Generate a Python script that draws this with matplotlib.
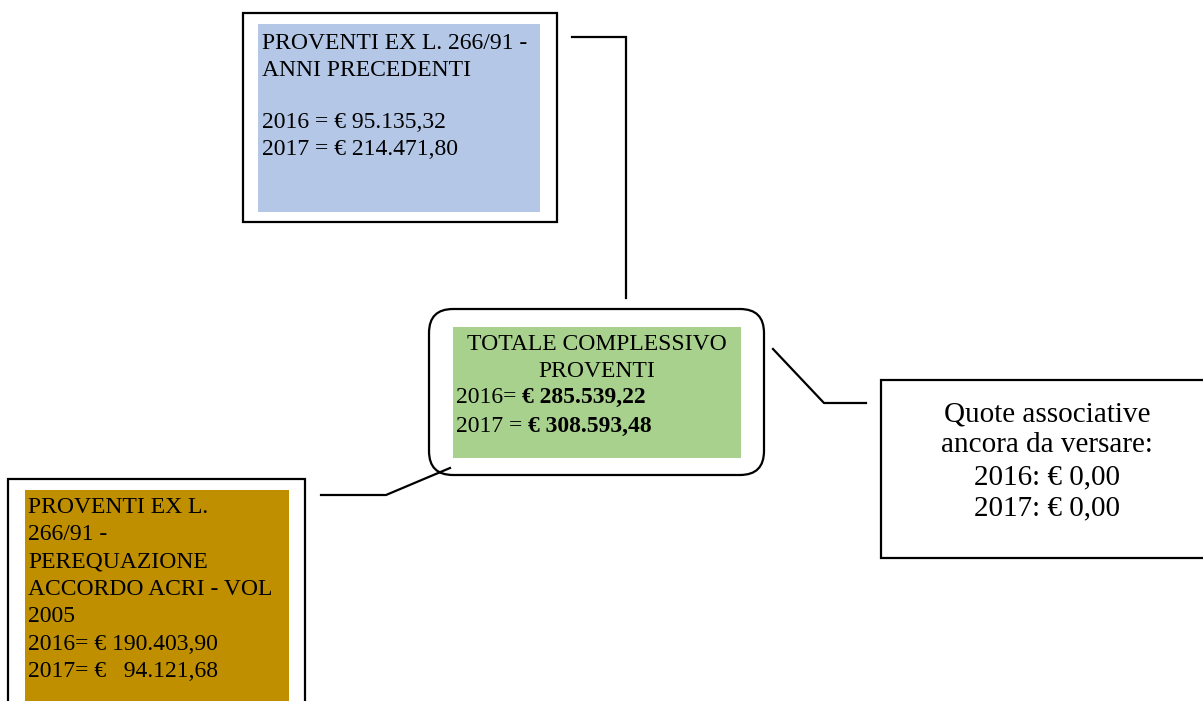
import matplotlib
matplotlib.use('Agg')
import matplotlib.pyplot as plt
from matplotlib.patches import Rectangle, FancyBboxPatch

# text content of the four boxes
top_lines = ["PROVENTI EX L. 266/91 -", "ANNI PRECEDENTI", "", "2016 = \u20ac 95.135,32", "2017 = \u20ac 214.471,80"]
center_title = ["TOTALE COMPLESSIVO", "PROVENTI"]
center_years = ["2016= ", "2017 = "]
center_values = ["\u20ac 285.539,22", "\u20ac 308.593,48"]
left_lines = ["PROVENTI EX L.", "266/91 -", "PEREQUAZIONE", "ACCORDO ACRI - VOL", "2005",
              "2016= \u20ac 190.403,90", "2017= \u20ac   94.121,68"]
right_lines = ["Quote associative", "ancora da versare:", "2016: \u20ac 0,00", "2017: \u20ac 0,00"]

FONT = 'Liberation Serif'
FS = 17
LW = 1.6

fig = plt.figure(figsize=(12.03, 7.01), dpi=100)
fig.patch.set_facecolor('white')
ax = fig.add_axes([0, 0, 1, 1])
ax.set_xlim(0, 1203)
ax.set_ylim(701, 0)
ax.axis('off')

# top box (blue)
ax.add_patch(Rectangle((243, 13), 314, 209, facecolor='white', edgecolor='black', lw=LW))
ax.add_patch(Rectangle((258, 24), 282, 188, facecolor='#b4c7e7', edgecolor='none'))
for i, s in enumerate(top_lines):
    ax.text(262, 49 + i * 26.5, s, fontsize=FS, family=FONT, va='baseline', ha='left')

# connector top box -> center
ax.plot([572, 626, 626], [37, 37, 298], color='black', lw=LW, solid_joinstyle='miter')

# center rounded box (green)
ax.add_patch(FancyBboxPatch((429, 309), 335, 166, boxstyle='round,pad=0,rounding_size=24',
                            facecolor='white', edgecolor='black', lw=LW))
ax.add_patch(Rectangle((453, 327), 288, 131, facecolor='#a9d18e', edgecolor='none'))
for i, s in enumerate(center_title):
    ax.text(597, 350 + i * 27, s, fontsize=FS, family=FONT, va='baseline', ha='center')
for i, (yr, val) in enumerate(zip(center_years, center_values)):
    t = ax.text(456, 408 + i * 29, yr, fontsize=FS, family=FONT, va='bottom', ha='left')
    ax.annotate(val, xy=(1, 0), xycoords=t, fontsize=FS, family=FONT, fontweight='bold',
                va='bottom', ha='left')

# connector center -> right box
ax.plot([773, 824, 866], [349, 403, 403], color='black', lw=LW)

# right box
ax.add_patch(Rectangle((881, 380), 330, 178, facecolor='white', edgecolor='black', lw=LW))
for i, s in enumerate(right_lines):
    ax.text(1047, 421 + i * 31.5, s, fontsize=21, family=FONT, va='baseline', ha='center')

# connector left box -> center
ax.plot([321, 386, 450], [495, 495, 468], color='black', lw=LW)

# bottom-left box (dark yellow)
ax.add_patch(Rectangle((8, 479), 297, 240, facecolor='white', edgecolor='black', lw=LW))
ax.add_patch(Rectangle((25, 490), 264, 230, facecolor='#bf8f00', edgecolor='none'))
for i, s in enumerate(left_lines):
    ax.text(28, 513 + i * 27.3, s, fontsize=FS, family=FONT, va='baseline', ha='left')

fig.savefig('out.png', dpi=100, facecolor='white')
